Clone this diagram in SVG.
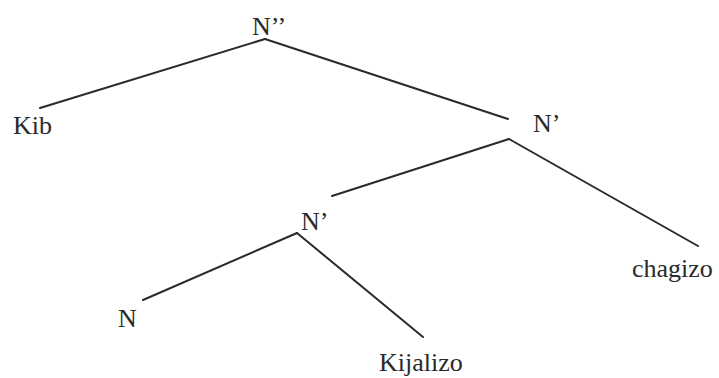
<svg xmlns="http://www.w3.org/2000/svg" width="719" height="378" viewBox="0 0 719 378">
<style>
text{font-family:"Liberation Serif","Times New Roman",serif;font-size:26px;fill:#2a2a2a}
.e{stroke:#2a2a2a;stroke-width:2;fill:none;stroke-linecap:round}
</style>
<rect width="719" height="378" fill="#fff"/>
<g id="connectors">
<line class="e" x1="265" y1="39" x2="40" y2="108"/>
<line class="e" x1="265" y1="39" x2="508" y2="119"/>
<line class="e" x1="509" y1="139" x2="332" y2="196"/>
<line class="e" x1="509" y1="139" x2="698" y2="246"/>
<line class="e" x1="297" y1="233" x2="143" y2="300"/>
<line class="e" x1="297" y1="233" x2="423" y2="337"/>
</g>
<g id="n-root"><text x="252" y="35">N’’</text></g>
<g id="n-kib"><text x="13" y="134">Kib</text></g>
<g id="n-nbar1"><text x="533" y="132">N’</text></g>
<g id="n-nbar2"><text x="301" y="230">N’</text></g>
<g id="n-chagizo"><text x="632" y="277">chagizo</text></g>
<g id="n-n"><text x="118" y="327">N</text></g>
<g id="n-kijalizo"><text x="379" y="371">Kijalizo</text></g>
</svg>
